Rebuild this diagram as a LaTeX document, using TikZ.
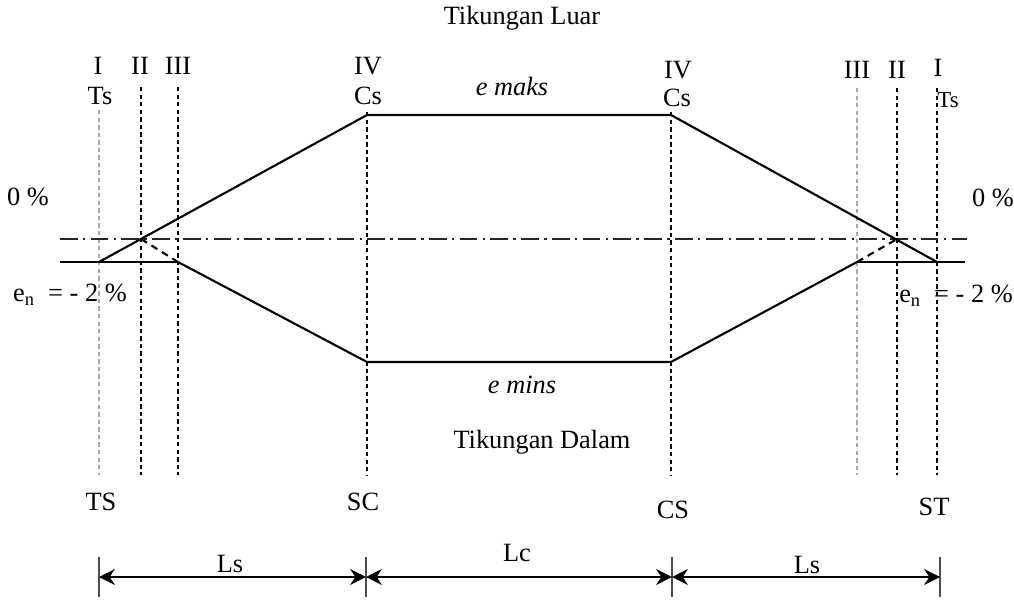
\documentclass[tikz,border=0pt]{standalone}
\usepackage{fontspec}
\setmainfont{Liberation Serif}
\usepackage{tikz}
\usetikzlibrary{positioning, arrows.meta}

\begin{document}
\begin{tikzpicture}[
    x=0.02cm, y=-0.02cm,
    lbl/.style={inner sep=0pt, font=\fontsize{15}{18}\selectfont},
    sml/.style={inner sep=0pt, font=\fontsize{13}{15}\selectfont},
    vdash/.style={line width=1.2pt, dash pattern=on 2.5pt off 1.8pt},
    vlight/.style={line width=0.7pt, gray!70, dash pattern=on 2.5pt off 1.8pt},
    prof/.style={line width=1.2pt},
    axis/.style={line width=1pt, gray!30!black, dash pattern=on 10pt off 3pt on 1.5pt off 3pt},
    dim/.style={{Stealth[length=9pt, width=9pt]}-{Stealth[length=9pt, width=9pt]}, line width=1.2pt},
    tick/.style={line width=0.6pt, gray!60!black},
]
    \useasboundingbox (0,0) rectangle (1014,601);

    % vertical stations
    \coordinate (tsT) at (99,110);   \coordinate (tsB) at (99,475);
    \coordinate (iiT) at (141,87);   \coordinate (iiB) at (141,475);
    \coordinate (iiiT) at (178,87);  \coordinate (iiiB) at (178,475);
    \coordinate (scT) at (367,112);  \coordinate (scB) at (367,475);
    \coordinate (csT) at (671,112);  \coordinate (csB) at (671,475);
    \coordinate (iiirT) at (857,88); \coordinate (iiirB) at (857,475);
    \coordinate (iirT) at (897,88);  \coordinate (iirB) at (897,475);
    \coordinate (stT) at (937,88);   \coordinate (stB) at (937,475);

    \draw[vlight] (tsT) -- (tsB);
    \draw[vdash] (iiT) -- (iiB);
    \draw[vdash] (iiiT) -- (iiiB);
    \draw[vdash] (scT) -- (scB);
    \draw[vdash] (csT) -- (csB);
    \draw[vlight] (iiirT) -- (iiirB);
    \draw[vdash] (iirT) -- (iirB);
    \draw[vdash] (stT) -- (stB);

    % profile points
    \coordinate (nL) at (60,262);   \coordinate (nR) at (965,262);
    \coordinate (aL) at (60,239);   \coordinate (aR) at (967,239);
    \coordinate (p1) at (99,262);   \coordinate (p2) at (141,239);
    \coordinate (p3) at (178,262);  \coordinate (p4) at (367,115);
    \coordinate (p5) at (367,362);  \coordinate (p6) at (671,115);
    \coordinate (p7) at (671,362);  \coordinate (p8) at (857,262);
    \coordinate (p9) at (897,239);  \coordinate (p10) at (937,262);

    \draw[axis] (aL) -- (aR);
    \draw[prof] (nL) -- (p3);
    \draw[prof] (p8) -- (nR);
    \draw[prof] (p1) -- (p4) -- (p6) -- (p10);
    \draw[prof] (p3) -- (p5) -- (p7) -- (p8);
    \draw[prof, dash pattern=on 4pt off 3pt] (p2) -- (p3);
    \draw[prof, dash pattern=on 4pt off 3pt] (p8) -- (p9);

    % labels
    \node[lbl] (luar) at (522,18) {Tikungan Luar};
    \node[lbl] (dalam) at (542,442) {Tikungan Dalam};
    \node[lbl, font=\fontsize{15}{18}\selectfont\itshape] (emaks) at (512,86) {e maks};
    \node[lbl, font=\fontsize{15}{18}\selectfont\itshape] (emins) at (522,385) {e mins};

    \node[lbl] (r1) at (98,66) {I};
    \node[lbl] (r2) at (140,66) {II};
    \node[lbl] (r3) at (178,66) {III};
    \node[lbl] (r4) at (368,66) {IV};
    \node[lbl] (r4b) at (678,70) {IV};
    \node[lbl] (r3b) at (857,70) {III};
    \node[lbl] (r2b) at (897,70) {II};
    \node[lbl] (r1b) at (938,68) {I};

    \node[lbl] (tsa) at (100,96) {Ts};
    \node[lbl] (csa) at (368,96) {Cs};
    \node[lbl] (csb) at (677,98) {Cs};
    \node[sml] (tsb) at (948,100) {Ts};

    \node[lbl] (zeroL) at (28,197) {0 \%};
    \node[lbl] (zeroR) at (993,198) {0 \%};
    \node[lbl] (enL) at (70,295) {e\textsubscript{n}\enspace= - 2 \%};
    \node[lbl] (enR) at (956,296) {e\textsubscript{n}\enspace= - 2 \%};

    \node[lbl] (ts) at (101,502) {TS};
    \node[lbl] (sc) at (363,502) {SC};
    \node[lbl] (cs) at (673,510) {CS};
    \node[lbl] (st) at (934,507) {ST};

    % dimension line
    \coordinate (d1T) at (99,557);  \coordinate (d1B) at (99,597);
    \coordinate (d2T) at (366,557); \coordinate (d2B) at (366,597);
    \coordinate (d3T) at (672,557); \coordinate (d3B) at (672,597);
    \coordinate (d4T) at (940,557); \coordinate (d4B) at (940,597);
    \coordinate (d1) at (99,577);   \coordinate (d2) at (366,577);
    \coordinate (d3) at (672,577);  \coordinate (d4) at (940,577);

    \draw[tick] (d1T) -- (d1B);
    \draw[tick] (d2T) -- (d2B);
    \draw[tick] (d3T) -- (d3B);
    \draw[tick] (d4T) -- (d4B);
    \draw[dim] (d1) -- (d2);
    \draw[dim] (d2) -- (d3);
    \draw[dim] (d3) -- (d4);

    \node[lbl] (ls1) at (230,564) {Ls};
    \node[lbl] (lc) at (517,553) {Lc};
    \node[lbl] (ls2) at (807,565) {Ls};
\end{tikzpicture}
\end{document}
